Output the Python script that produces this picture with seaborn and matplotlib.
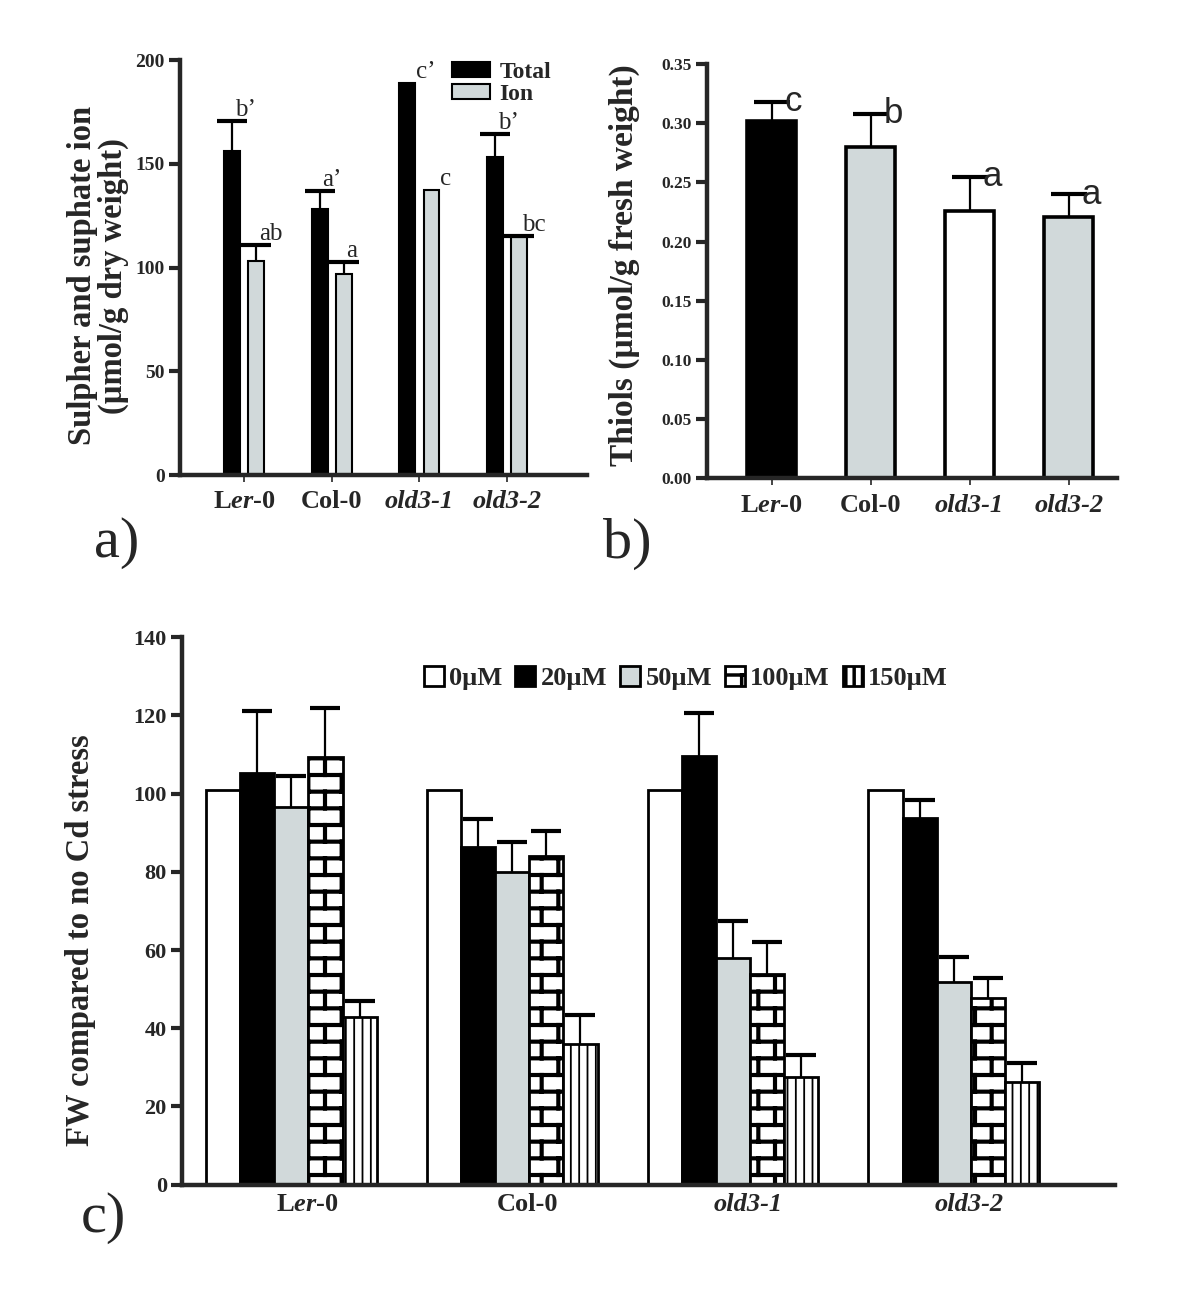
import numpy as np
import pandas as pd
import matplotlib
matplotlib.use("Agg")
import matplotlib.pyplot as plt
import matplotlib.hatch as mhatch
from matplotlib.path import Path
from matplotlib.ticker import FormatStrFormatter
import seaborn as sns

# --- data -------------------------------------------------------------
genotypes = ['Ler-0', 'Col-0', 'old3-1', 'old3-2']
tick_labels = [r'L$\it{er}$-0', 'Col-0', 'old3-1', 'old3-2']

# a) total sulphur and sulphate ion (umol/g dry weight)
sulphur_total = [156, 128, 189, 153.5]
sulphur_total_err = [14.5, 9, 0, 11]
sulphate_ion = [103, 97, 137.5, 114.5]
sulphate_ion_err = [8, 5.5, 0, 0.5]
letters_total = ["b’", "a’", "c’", "b’"]
letters_ion = ["ab", "a", "c", "bc"]

# b) thiols (umol/g fresh weight)
thiols = [0.302, 0.280, 0.226, 0.221]
thiols_err = [0.016, 0.028, 0.029, 0.019]
letters_thiols = ['c', 'b', 'a', 'a']

# c) fresh weight relative to no Cd
cd_levels = ['0µM', '20µM', '50µM', '100µM', '150µM']
fw_0 = [101, 101, 101, 101]
fw_20 = [105.2, 86.4, 109.7, 93.7]
fw_50 = [96.5, 80.0, 58.0, 51.9]
fw_100 = [109.4, 84.0, 53.8, 47.8]
fw_150 = [42.9, 36.0, 27.6, 26.3]
fw_err_0 = [0, 0, 0, 0]
fw_err_20 = [16.0, 7.0, 10.8, 4.7]
fw_err_50 = [7.9, 7.7, 9.5, 6.4]
fw_err_100 = [12.5, 6.4, 8.3, 5.1]
fw_err_150 = [4.1, 7.5, 5.5, 4.7]

GRAY = '#cfdadc'


# brick-wall hatch, used in place of the '*' pattern
class BrickHatch(mhatch.HatchPatternBase):
    def __init__(self, hatch, density):
        self.rows = int(hatch.count('*') * density)
        self.cols = self.rows // 2
        self.num_vertices = (2 * self.rows + 2 * self.cols * (self.rows + 1)) if self.rows else 0

    def set_vertices_and_codes(self, vertices, codes):
        n, m = self.rows, self.cols
        ys = (np.arange(n) + 0.5) / n
        segs = [((0.0, y), (1.0, y)) for y in ys]
        for i in range(n):
            xs = (np.arange(m) + 0.25 + 0.5 * (i % 2)) / m
            spans = [(ys[i], ys[i + 1])] if i < n - 1 else [(ys[i], 1.0), (0.0, ys[0])]
            for x in xs:
                for y0, y1 in spans:
                    segs.append(((x, y0), (x, y1)))
        vertices[:] = np.array(segs).reshape(-1, 2)
        codes[0::2] = Path.MOVETO
        codes[1::2] = Path.LINETO


mhatch._hatch_types = [BrickHatch if t is mhatch.Stars else t for t in mhatch._hatch_types]

sns.set_style("ticks")
plt.rcParams['font.family'] = 'serif'
plt.rcParams['font.serif'] = ['Liberation Serif', 'DejaVu Serif']
plt.rcParams['font.weight'] = 'bold'
plt.rcParams['mathtext.fontset'] = 'custom'
plt.rcParams['mathtext.rm'] = 'Liberation Serif:bold'
plt.rcParams['mathtext.bf'] = 'Liberation Serif:bold'
plt.rcParams['mathtext.it'] = 'Liberation Serif:bold:italic'
plt.rcParams['hatch.linewidth'] = 2.5


def style_axes(ax, ysize, xsize=19, xtick_len=5, xshift=0.0):
    sns.despine(ax=ax)
    for s in ['left', 'bottom']:
        ax.spines[s].set_linewidth(3.2)
    ax.tick_params(axis='y', direction='out', length=8, width=3, labelsize=ysize, pad=3)
    ax.tick_params(axis='x', direction='out', length=xtick_len, width=1.2, labelsize=xsize, pad=6)
    ax.set_xlabel('')
    ax.set_xticks(np.arange(len(genotypes)) + xshift, tick_labels)
    for lbl in ax.get_xticklabels():
        if lbl.get_text().startswith('old'):
            lbl.set_fontstyle('italic')


def add_errors(ax, container, errs, capsize, lw=1.6, capthick=3):
    # one-sided (upper) error bars on top of the bars
    for bar, e in zip(container, errs):
        if e > 0:
            top = bar.get_height()
            eb = ax.errorbar(bar.get_x() + bar.get_width() / 2, top, yerr=[[0], [e]],
                             fmt='none', ecolor='black', elinewidth=lw, capsize=capsize,
                             capthick=capthick, zorder=3)
            for cap in eb[1]:
                if np.allclose(cap.get_ydata(), top):
                    cap.set_visible(False)


fig = plt.figure(figsize=(12, 13), dpi=100)

# --- a) ---------------------------------------------------------------
axa = fig.add_axes([0.15, 0.6346, 0.339, 0.3192])
dfa = pd.DataFrame({
    'Genotype': genotypes * 2,
    'Measure': ['Total'] * 4 + ['Ion'] * 4,
    'Value': sulphur_total + sulphate_ion,
})
sns.barplot(data=dfa, x='Genotype', y='Value', hue='Measure', hue_order=['Total', 'Ion'],
            palette=['black', GRAY], width=0.55, gap=0.345, errorbar=None,
            edgecolor='black', linewidth=1.5, legend=False, ax=axa)
axa.set_ylim(0, 200)
axa.set_xlim(-0.73, 3.91)
axa.set_yticks([0, 50, 100, 150, 200])
style_axes(axa, 14)
axa.set_ylabel('Sulpher and suphate ion\n(µmol/g dry weight)', fontsize=23.5,
               fontweight='bold', linespacing=1.0)
axa.yaxis.set_label_coords(-0.125, 0.48)

for cont, errs, letters in [(axa.containers[0], sulphur_total_err, letters_total),
                            (axa.containers[1], sulphate_ion_err, letters_ion)]:
    add_errors(axa, cont, errs, capsize=11)
    for bar, e, lab in zip(cont, errs, letters):
        if e > 0:
            x = bar.get_x() + bar.get_width() / 2 + 0.03
        else:
            x = bar.get_x() + bar.get_width() + 0.01
        axa.text(x, bar.get_height() + e, lab, ha='left', va='bottom',
                 fontsize=18, fontweight='normal')

axa.legend(handles=[axa.containers[0][0], axa.containers[1][0]], labels=['Total', 'Ion'],
           loc='upper left', bbox_to_anchor=(0.635, 1.03), frameon=False, fontsize=17,
           handlelength=1.6, handleheight=0.55, handletextpad=0.4, labelspacing=0.05,
           borderpad=0.1)

# --- b) ---------------------------------------------------------------
axb = fig.add_axes([0.589, 0.632, 0.342, 0.3187])
dfb = pd.DataFrame({'Genotype': genotypes, 'Thiols': thiols})
sns.barplot(data=dfb, x='Genotype', y='Thiols', hue='Genotype', hue_order=genotypes,
            palette=['black', GRAY, 'white', GRAY], width=0.5, errorbar=None,
            edgecolor='black', linewidth=2.6, legend=False, ax=axb)
axb.set_ylim(0, 0.35)
axb.set_xlim(-0.654, 3.49)
axb.set_yticks(np.arange(0, 0.351, 0.05))
axb.yaxis.set_major_formatter(FormatStrFormatter('%.2f'))
style_axes(axb, 12.5)
axb.set_ylabel('Thiols (µmol/g fresh weight)', fontsize=24, fontweight='bold')
axb.yaxis.set_label_coords(-0.163, 0.515)

bars_b = [c[0] for c in axb.containers]
add_errors(axb, bars_b, thiols_err, capsize=13)
for bar, e, lab in zip(bars_b, thiols_err, letters_thiols):
    axb.text(bar.get_x() + bar.get_width() / 2 + 0.13, bar.get_height() + e, lab,
             ha='left', va='center', fontsize=25, fontweight='normal',
             family='Liberation Sans')

# --- c) ---------------------------------------------------------------
axc = fig.add_axes([0.1517, 0.0888, 0.7775, 0.421])
fw_all = [fw_0, fw_20, fw_50, fw_100, fw_150]
fw_err_all = [fw_err_0, fw_err_20, fw_err_50, fw_err_100, fw_err_150]
dfc = pd.DataFrame({
    'Genotype': genotypes * len(cd_levels),
    'Cd': [lvl for lvl in cd_levels for _ in genotypes],
    'FW': [v for vals in fw_all for v in vals],
})
sns.barplot(data=dfc, x='Genotype', y='FW', hue='Cd', hue_order=cd_levels,
            palette=['white', 'black', GRAY, 'white', 'white'], width=0.773, gap=0,
            errorbar=None, edgecolor='black', linewidth=2.0, legend=False, ax=axc)
hatches = ['', '', '', '*', '||']
hatch_lw = [1, 1, 1, 3.0, 1.3]
for cont, h, hlw in zip(axc.containers, hatches, hatch_lw):
    for bar in cont:
        bar.set_hatch(h)
        if hasattr(bar, 'set_hatch_linewidth'):
            bar.set_hatch_linewidth(hlw)
for cont, errs in zip(axc.containers, fw_err_all):
    add_errors(axc, cont, errs, capsize=11)

axc.set_ylim(0, 140)
axc.set_xlim(-0.495, 3.73)
axc.set_yticks(range(0, 141, 20))
style_axes(axc, 16, xtick_len=0, xshift=0.07)
axc.set_ylabel('FW compared to no Cd stress', fontsize=23.5, fontweight='bold')
axc.yaxis.set_label_coords(-0.092, 0.447)
axc.legend(handles=[c[0] for c in axc.containers], labels=cd_levels, loc='upper center',
           bbox_to_anchor=(0.54, 0.99), ncol=5, frameon=False, fontsize=19,
           handlelength=0.75, handleheight=0.75, handletextpad=0.2, columnspacing=0.5)

# panel letters
fig.text(0.0975, 0.582, 'a)', fontsize=42, fontweight='normal', ha='center', va='center')
fig.text(0.523, 0.582, 'b)', fontsize=42, fontweight='normal', ha='center', va='center')
fig.text(0.086, 0.063, 'c)', fontsize=42, fontweight='normal', ha='center', va='center')

fig.savefig('out.png', dpi=100)
